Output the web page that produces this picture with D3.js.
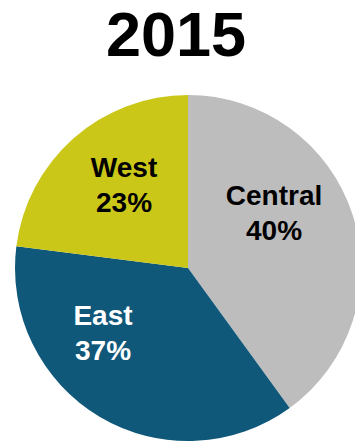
<!DOCTYPE html>
<html>
<head>
<meta charset="utf-8">
<script src="https://cdn.jsdelivr.net/npm/d3@7"></script>
<style>
  html, body { margin: 0; padding: 0; background: #fff; }
  svg { display: block; }
  text { font-family: "Liberation Sans", Arial, sans-serif; font-weight: bold; }
</style>
</head>
<body>
<svg id="chart" width="355" height="448"></svg>
<script>
// Regional share for the year
const title = "2015";
const regions = ["Central", "East", "West"];
const shares = [40, 37, 23];
const colors = ["#bdbdbd", "#10587a", "#cbc719"];
const labelColors = ["#000000", "#ffffff", "#000000"];

// Label anchor points (between the two text lines), relative to the pie centre
const labelOffsets = [[86, -55], [-85, 65], [-64, -83]];

const width = 355, height = 448;
const cx = 188, cy = 268, radius = 173;

const svg = d3.select("#chart");

svg.append("text")
  .attr("x", 176)
  .attr("y", 56)
  .attr("text-anchor", "middle")
  .attr("font-size", 63)
  .attr("fill", "#000")
  .text(title);

const data = regions.map((r, i) => ({ region: r, value: shares[i], color: colors[i], labelColor: labelColors[i], offset: labelOffsets[i] }));

const pie = d3.pie().value(d => d.value).sort(null);
const arc = d3.arc().innerRadius(0).outerRadius(radius);

const g = svg.append("g").attr("transform", `translate(${cx},${cy})`);

g.selectAll("path")
  .data(pie(data))
  .join("path")
  .attr("d", arc)
  .attr("fill", d => d.data.color);

const fmt = d => d + "%";

const labels = g.selectAll("text.label")
  .data(pie(data))
  .join("text")
  .attr("class", "label")
  .attr("text-anchor", "middle")
  .attr("font-size", 28)
  .attr("fill", d => d.data.labelColor)
  .attr("transform", d => `translate(${d.data.offset[0]},${d.data.offset[1]})`);

labels.append("tspan")
  .attr("x", 0)
  .attr("y", -8)
  .text(d => d.data.region);

labels.append("tspan")
  .attr("x", 0)
  .attr("y", 27)
  .text(d => fmt(d.data.value));
</script>
</body>
</html>
